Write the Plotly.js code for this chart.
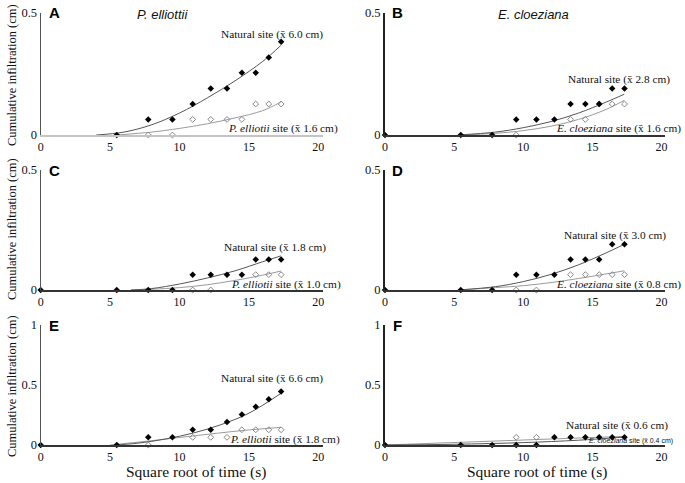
<!DOCTYPE html>
<html><head><meta charset="utf-8">
<script src="https://cdn.plot.ly/plotly-3.0.1.min.js"></script>
<style>html,body{margin:0;padding:0;background:#fff}#chart{width:685px;height:483px}</style>
</head><body><div id="chart"></div>
<script>
// Square root of time (s) at which readings were taken
const sqrtTime = [0, 5.48, 7.75, 9.49, 10.95, 12.25, 13.42, 14.49, 15.49, 16.43, 17.32];

// Panel A – P. elliottii (first test)
const aNatural = [null, 0, 0.064, 0.064, 0.127, 0.191, 0.191, 0.255, 0.255, 0.318, 0.382];
const aSite    = [null, null, 0, 0, 0.064, 0.064, 0.064, 0.064, 0.127, 0.127, 0.127];
const aNatFitX = [4.0, 6, 8, 10, 12, 14, 16, 17.3];
const aNatFitY = [0, 0.012, 0.042, 0.09, 0.152, 0.222, 0.302, 0.367];
const aSiteFitX = [5.5, 8, 10, 12, 14, 16, 17.3];
const aSiteFitY = [0, 0.012, 0.027, 0.046, 0.07, 0.1, 0.135];

// Panel B – E. cloeziana
const bNatural = [0, 0, 0, 0.064, 0.064, 0.064, 0.127, 0.127, 0.127, 0.191, 0.191];
const bSite    = [null, null, null, 0, null, null, 0.064, 0.064, 0.127, 0.127, 0.127];
const bNatFitX = [5.3, 8, 10, 12, 14, 16, 17.3];
const bNatFitY = [0, 0.012, 0.03, 0.055, 0.09, 0.135, 0.167];
const bSiteFitX = [5.3, 8, 10, 12, 14, 16, 17.3];
const bSiteFitY = [0, 0.007, 0.018, 0.036, 0.064, 0.105, 0.142];

// Panel C – P. elliottii
const cNatural = [0, 0, 0, 0, 0.064, 0.064, 0.064, 0.064, 0.127, 0.127, 0.127];
const cSite    = [null, null, null, null, 0, 0, null, null, 0.064, 0.064, 0.064];
const cNatFitX = [6.5, 8, 10, 12, 14, 16, 17.3];
const cNatFitY = [0, 0.006, 0.025, 0.05, 0.08, 0.118, 0.142];
const cSiteFitX = [6.5, 8, 10, 12, 14, 16, 17.3];
const cSiteFitY = [0, 0.003, 0.01, 0.022, 0.04, 0.062, 0.079];

// Panel D – E. cloeziana
const dNatural = [0, 0, 0, 0.064, 0.064, 0.064, 0.127, 0.127, 0.127, 0.191, 0.191];
const dSite    = [null, null, null, 0, 0, null, 0.064, 0.064, 0.064, 0.064, 0.064];
const dNatFitX = [5.3, 8, 10, 12, 14, 16, 17.3];
const dNatFitY = [0, 0.014, 0.035, 0.065, 0.105, 0.155, 0.19];
const dSiteFitX = [5.3, 8, 10, 12, 14, 16, 17.3];
const dSiteFitY = [0, 0.01, 0.018, 0.031, 0.048, 0.067, 0.08];

// Panel E – P. elliottii
const eNatural = [0, 0, 0.064, 0.064, 0.127, 0.127, 0.191, 0.255, 0.318, 0.382, 0.446];
const eSite    = [null, null, 0, null, 0.064, 0.064, 0.064, 0.127, 0.127, 0.127, 0.127];
const eNatFitX = [5.3, 7, 9, 11, 13, 15, 17.3];
const eNatFitY = [0, 0.015, 0.05, 0.1, 0.17, 0.265, 0.43];
const eSiteFitX = [5, 7.75, 10.95, 14.49, 17.3];
const eSiteFitY = [0, 0.033, 0.075, 0.12, 0.147];

// Panel F – E. cloeziana
const fNatural = [0, 0, 0, 0, 0, 0.064, 0.064, 0.064, 0.064, 0.064, 0.064];
const fSite    = [null, null, null, 0.064, 0.064, null, null, null, null, null, null];
const fNatFitX = [0, 5, 10, 14, 17.32];
const fNatFitY = [0, 0.006, 0.02, 0.04, 0.066];
const fSiteFitX = [0, 17.32];
const fSiteFitY = [0, 0.072];

const panelLetters = ['A', 'B', 'C', 'D', 'E', 'F'];
const columnTitles = ['<i>P. elliottii</i>', '<i>E. cloeziana</i>'];
const naturalLabels = ['Natural site (x̄ 6.0 cm)', 'Natural site (x̄ 2.8 cm)', 'Natural site (x̄ 1.8 cm)',
                       'Natural site (x̄ 3.0 cm)', 'Natural site (x̄ 6.6 cm)', 'Natural site (x̄ 0.6 cm)'];
const siteLabels = ['<i>P. elliotii</i> site (x̄ 1.6 cm)', '<i>E. cloeziana</i> site (x̄ 1.6 cm)',
                    '<i>P. elliotii</i> site (x̄ 1.0 cm)', '<i>E. cloeziana</i> site (x̄ 0.8 cm)',
                    '<i>P. elliotii</i> site (x̄ 1.8 cm)', '<i>E. cloeziana</i> site (x̄ 0.4 cm)'];
const xTitle = 'Square root of time (s)';
const yTitle = 'Cumulative infiltration (cm)';
const xTicks = [0, 5, 10, 15, 20];

const W = 685, H = 483;
const px = v => v / W, py = v => 1 - v / H;
const SERIF = 'Liberation Serif, Times New Roman, serif';
const SANS = 'Liberation Sans, Arial, sans-serif';

const panels = [
  {nat: aNatural, site: aSite, nfx: aNatFitX, nfy: aNatFitY, sfx: aSiteFitX, sfy: aSiteFitY},
  {nat: bNatural, site: bSite, nfx: bNatFitX, nfy: bNatFitY, sfx: bSiteFitX, sfy: bSiteFitY},
  {nat: cNatural, site: cSite, nfx: cNatFitX, nfy: cNatFitY, sfx: cSiteFitX, sfy: cSiteFitY},
  {nat: dNatural, site: dSite, nfx: dNatFitX, nfy: dNatFitY, sfx: dSiteFitX, sfy: dSiteFitY},
  {nat: eNatural, site: eSite, nfx: eNatFitX, nfy: eNatFitY, sfx: eSiteFitX, sfy: eSiteFitY},
  {nat: fNatural, site: fSite, nfx: fNatFitX, nfy: fNatFitY, sfx: fSiteFitX, sfy: fSiteFitY}
];

// pixel geometry
const colX = [[40.7, 322.5], [385, 665]];
const rowY = [[135, 13], [290, 170], [445, 325]];   // [y of 0, y of top]
const rowMax = [0.5, 0.5, 1];
const rowTicks = [[0, 0.5], [0, 0.5], [0, 0.5, 1]];

const traces = [];
const layout = {
  width: W, height: H, margin: {l: 0, r: 0, t: 0, b: 0},
  paper_bgcolor: '#fff', plot_bgcolor: 'rgba(0,0,0,0)',
  showlegend: false, annotations: []
};

panels.forEach((p, i) => {
  const col = i % 2, row = Math.floor(i / 2);
  const n = i === 0 ? '' : String(i + 1);
  const xa = 'x' + n, ya = 'y' + n;
  layout['xaxis' + n] = {
    domain: [px(colX[col][0]), px(colX[col][1])], anchor: ya,
    range: [0, col === 0 ? 20.3 : 20.25], tickvals: xTicks, ticks: '',
    showgrid: false, zeroline: false, showline: true,
    linecolor: i === 0 ? '#c4c4c4' : '#333', linewidth: i === 0 ? 2 : 1.5,
    tickfont: {family: SERIF, size: 12, color: '#111'}, fixedrange: true
  };
  layout['yaxis' + n] = {
    domain: [py(rowY[row][0]), py(rowY[row][1])], anchor: xa,
    range: [0, rowMax[row]], tickvals: rowTicks[row], ticks: '',
    showgrid: false, zeroline: false, showline: true,
    linecolor: col === 0 ? '#555' : '#222', linewidth: col === 0 ? 1.2 : 2,
    tickfont: {family: SERIF, size: 12.5, color: '#111'}, fixedrange: true
  };
  traces.push({x: p.sfx, y: p.sfy, xaxis: xa, yaxis: ya, mode: 'lines', line: {color: '#9a9a9a', width: 1, shape: 'spline'}, cliponaxis: false, hoverinfo: 'skip'});
  traces.push({x: p.nfx, y: p.nfy, xaxis: xa, yaxis: ya, mode: 'lines', line: {color: '#555', width: 1, shape: 'spline'}, cliponaxis: false, hoverinfo: 'skip'});
  traces.push({x: sqrtTime, y: p.site, xaxis: xa, yaxis: ya, mode: 'markers', cliponaxis: false,
    marker: {symbol: 'diamond-open', size: 4.5, color: '#888', line: {width: 1, color: '#888'}}});
  traces.push({x: sqrtTime, y: p.nat, xaxis: xa, yaxis: ya, mode: 'markers', cliponaxis: false,
    marker: {symbol: 'diamond', size: 5, color: '#000'}});

  // panel letter
  const lx = col === 0 ? 54 : 397;
  const ly = [12, 170, 325][row];
  layout.annotations.push({xref: 'paper', yref: 'paper', x: px(lx), y: py(ly), xanchor: 'center', yanchor: 'middle',
    text: '<b>' + panelLetters[i] + '</b>', showarrow: false, font: {family: SANS, size: 15, color: '#000'}});
});

// column titles
layout.annotations.push({xref: 'paper', yref: 'paper', x: px(162), y: py(14), xanchor: 'center', yanchor: 'middle',
  text: columnTitles[0], showarrow: false, font: {family: SANS, size: 13, color: '#111'}});
layout.annotations.push({xref: 'paper', yref: 'paper', x: px(533), y: py(14), xanchor: 'center', yanchor: 'middle',
  text: columnTitles[1], showarrow: false, font: {family: SANS, size: 13, color: '#111'}});

// series labels  [right x, center y]
const natPos = [[325, 34], [672, 79], [328, 247], [668, 235], [325, 378], [670, 425]];
const sitePos = [[340, 128], [683, 128], [343, 284], [683, 284], [342, 439], [675, 441]];
naturalLabels.forEach((t, i) => {
  layout.annotations.push({xref: 'paper', yref: 'paper', x: px(natPos[i][0]), y: py(natPos[i][1]),
    xanchor: 'right', yanchor: 'middle', text: t, showarrow: false,
    font: {family: SERIF, size: 11.3, color: '#111'}});
});
siteLabels.forEach((t, i) => {
  const small = i === 5;
  layout.annotations.push({xref: 'paper', yref: 'paper', x: px(sitePos[i][0]), y: py(sitePos[i][1]),
    xanchor: 'right', yanchor: 'middle', text: t, showarrow: false,
    font: small ? {family: SANS, size: 7, color: '#111'} : {family: SERIF, size: 11.3, color: '#111'}});
});

// axis titles
[196, 537].forEach(cx => layout.annotations.push({xref: 'paper', yref: 'paper', x: px(cx), y: py(472),
  xanchor: 'center', yanchor: 'middle', text: xTitle, showarrow: false,
  font: {family: SERIF, size: 15.5, color: '#111'}}));
[75, 229, 386].forEach(cy => layout.annotations.push({xref: 'paper', yref: 'paper', x: px(12), y: py(cy),
  xanchor: 'center', yanchor: 'middle', text: yTitle, textangle: -90, showarrow: false,
  font: {family: SERIF, size: 12.5, color: '#111'}}));

Plotly.newPlot('chart', traces, layout, {staticPlot: true, displayModeBar: false});
</script>
</body></html>
